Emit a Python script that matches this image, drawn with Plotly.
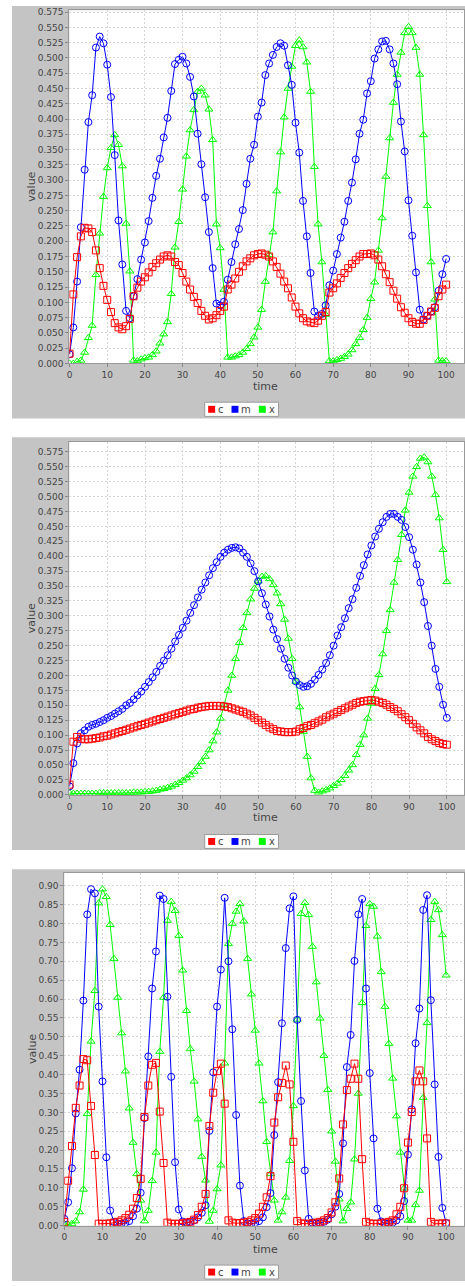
import plotly.graph_objects as go

W, H = 465, 1286
TIME = list(range(0, 101))

# ---------------- Panel 1 ----------------
P1_C = [0.016, 0.113, 0.174, 0.208, 0.222, 0.221, 0.215, 0.185, 0.156, 0.127,
        0.104, 0.084, 0.066, 0.059, 0.056, 0.061, 0.073, 0.110, 0.124, 0.134,
        0.141, 0.149, 0.158, 0.164, 0.170, 0.175, 0.177, 0.175, 0.166, 0.161,
        0.148, 0.134, 0.121, 0.109, 0.099, 0.086, 0.078, 0.072, 0.074, 0.079,
        0.086, 0.093, 0.121, 0.129, 0.139, 0.150, 0.159, 0.167, 0.172, 0.177,
        0.179, 0.180, 0.178, 0.175, 0.167, 0.158, 0.147, 0.134, 0.123, 0.108,
        0.093, 0.082, 0.074, 0.069, 0.067, 0.066, 0.070, 0.078, 0.084, 0.116,
        0.123, 0.131, 0.140, 0.148, 0.156, 0.163, 0.169, 0.175, 0.179, 0.179,
        0.180, 0.177, 0.170, 0.159, 0.146, 0.133, 0.119, 0.106, 0.092, 0.083,
        0.074, 0.068, 0.065, 0.065, 0.071, 0.078, 0.085, 0.091, 0.110, 0.121,
        0.129]
P1_M = [0.015, 0.059, 0.134, 0.223, 0.317, 0.395, 0.439, 0.517, 0.535, 0.524,
        0.489, 0.436, 0.341, 0.234, 0.162, 0.086, 0.074, 0.110, 0.138, 0.170,
        0.198, 0.233, 0.271, 0.307, 0.335, 0.370, 0.402, 0.446, 0.490, 0.497,
        0.502, 0.491, 0.469, 0.437, 0.376, 0.326, 0.272, 0.215, 0.156, 0.098,
        0.095, 0.101, 0.137, 0.166, 0.195, 0.220, 0.251, 0.294, 0.335, 0.358,
        0.404, 0.427, 0.472, 0.491, 0.505, 0.518, 0.524, 0.520, 0.488, 0.456,
        0.394, 0.345, 0.266, 0.208, 0.148, 0.085, 0.078, 0.081, 0.095, 0.128,
        0.152, 0.179, 0.206, 0.232, 0.266, 0.296, 0.334, 0.376, 0.399, 0.442,
        0.462, 0.499, 0.514, 0.527, 0.528, 0.514, 0.491, 0.457, 0.396, 0.347,
        0.267, 0.209, 0.149, 0.088, 0.072, 0.078, 0.085, 0.092, 0.119, 0.146,
        0.171]
P1_X = [0.000, 0.000, 0.003, 0.005, 0.018, 0.042, 0.062, 0.145, 0.213, 0.273,
        0.320, 0.353, 0.374, 0.358, 0.323, 0.229, 0.151, 0.005, 0.004, 0.007,
        0.009, 0.010, 0.014, 0.020, 0.033, 0.048, 0.068, 0.114, 0.190, 0.232,
        0.285, 0.339, 0.382, 0.415, 0.445, 0.450, 0.439, 0.416, 0.366, 0.228,
        0.189, 0.121, 0.010, 0.010, 0.012, 0.014, 0.018, 0.024, 0.032, 0.043,
        0.059, 0.088, 0.134, 0.178, 0.215, 0.282, 0.346, 0.403, 0.450, 0.486,
        0.520, 0.529, 0.518, 0.493, 0.445, 0.322, 0.228, 0.166, 0.080, 0.004,
        0.004, 0.006, 0.008, 0.011, 0.015, 0.022, 0.032, 0.042, 0.055, 0.075,
        0.106, 0.133, 0.185, 0.238, 0.306, 0.369, 0.427, 0.473, 0.509, 0.541,
        0.551, 0.541, 0.517, 0.473, 0.374, 0.258, 0.166, 0.105, 0.005, 0.004,
        0.004]

# ---------------- Panel 2 ----------------
P2_C = [0.017, 0.089, 0.097, 0.094, 0.093, 0.093, 0.094, 0.095, 0.096, 0.098,
        0.099, 0.101, 0.103, 0.105, 0.107, 0.109, 0.111, 0.113, 0.115, 0.117,
        0.119, 0.121, 0.123, 0.125, 0.127, 0.129, 0.131, 0.133, 0.135, 0.137,
        0.139, 0.141, 0.143, 0.144, 0.146, 0.147, 0.148, 0.149, 0.149, 0.149,
        0.149, 0.148, 0.147, 0.145, 0.143, 0.141, 0.139, 0.136, 0.133, 0.129,
        0.125, 0.121, 0.117, 0.113, 0.110, 0.107, 0.106, 0.105, 0.105, 0.105,
        0.106, 0.110, 0.112, 0.115, 0.117, 0.120, 0.123, 0.126, 0.130, 0.133,
        0.136, 0.139, 0.142, 0.145, 0.148, 0.151, 0.154, 0.156, 0.157, 0.158,
        0.159, 0.158, 0.156, 0.154, 0.151, 0.147, 0.144, 0.140, 0.135, 0.130,
        0.125, 0.119, 0.113, 0.108, 0.103, 0.097, 0.093, 0.090, 0.087, 0.085,
        0.084]
P2_M = [0.014, 0.053, 0.086, 0.103, 0.108, 0.114, 0.117, 0.119, 0.122, 0.125,
        0.129, 0.132, 0.136, 0.140, 0.144, 0.150, 0.154, 0.160, 0.167, 0.173,
        0.181, 0.189, 0.197, 0.206, 0.216, 0.225, 0.234, 0.245, 0.257, 0.268,
        0.280, 0.292, 0.305, 0.318, 0.331, 0.344, 0.356, 0.368, 0.380, 0.390,
        0.399, 0.406, 0.411, 0.414, 0.415, 0.413, 0.406, 0.399, 0.388, 0.375,
        0.358, 0.338, 0.319, 0.299, 0.277, 0.261, 0.245, 0.228, 0.213, 0.200,
        0.190, 0.184, 0.181, 0.182, 0.186, 0.193, 0.201, 0.210, 0.221, 0.234,
        0.250, 0.267, 0.281, 0.296, 0.313, 0.328, 0.347, 0.367, 0.385, 0.403,
        0.418, 0.433, 0.446, 0.457, 0.466, 0.471, 0.471, 0.466, 0.461, 0.449,
        0.432, 0.411, 0.386, 0.356, 0.323, 0.283, 0.250, 0.211, 0.181, 0.151,
        0.129]
P2_X = [0.003, 0.002, 0.002, 0.002, 0.002, 0.002, 0.002, 0.002, 0.003, 0.003,
        0.003, 0.003, 0.003, 0.003, 0.003, 0.003, 0.003, 0.004, 0.004, 0.004,
        0.005, 0.005, 0.006, 0.007, 0.009, 0.010, 0.012, 0.014, 0.017, 0.020,
        0.024, 0.028, 0.033, 0.039, 0.047, 0.055, 0.064, 0.075, 0.090, 0.105,
        0.128, 0.150, 0.175, 0.200, 0.228, 0.255, 0.280, 0.305, 0.328, 0.346,
        0.358, 0.366, 0.367, 0.362, 0.352, 0.338, 0.320, 0.294, 0.262, 0.228,
        0.190, 0.147, 0.106, 0.064, 0.028, 0.007, 0.004, 0.006, 0.008, 0.011,
        0.015, 0.019, 0.025, 0.032, 0.041, 0.050, 0.067, 0.084, 0.100, 0.128,
        0.153, 0.178, 0.201, 0.236, 0.275, 0.310, 0.356, 0.394, 0.436, 0.477,
        0.507, 0.534, 0.550, 0.564, 0.566, 0.558, 0.534, 0.503, 0.464, 0.411,
        0.357]

# ---------------- Panel 3 ----------------
P3_C = [0.010, 0.119, 0.211, 0.312, 0.371, 0.441, 0.438, 0.317, 0.187, 0.005,
        0.005, 0.005, 0.006, 0.008, 0.010, 0.014, 0.020, 0.029, 0.045, 0.073,
        0.124, 0.288, 0.371, 0.426, 0.431, 0.302, 0.166, 0.008, 0.005, 0.005,
        0.005, 0.006, 0.008, 0.010, 0.016, 0.028, 0.050, 0.084, 0.264, 0.352,
        0.409, 0.429, 0.323, 0.014, 0.008, 0.006, 0.007, 0.008, 0.010, 0.014,
        0.020, 0.032, 0.050, 0.075, 0.131, 0.273, 0.340, 0.378, 0.424, 0.374,
        0.222, 0.012, 0.006, 0.005, 0.005, 0.006, 0.008, 0.010, 0.014, 0.020,
        0.035, 0.062, 0.125, 0.268, 0.359, 0.389, 0.429, 0.389, 0.176, 0.010,
        0.006, 0.005, 0.005, 0.006, 0.008, 0.010, 0.014, 0.030, 0.050, 0.099,
        0.220, 0.301, 0.382, 0.411, 0.382, 0.231, 0.010, 0.005, 0.005, 0.006,
        0.006]
P3_M = [0.018, 0.062, 0.152, 0.297, 0.413, 0.596, 0.824, 0.891, 0.880, 0.580,
        0.382, 0.181, 0.040, 0.010, 0.005, 0.005, 0.007, 0.012, 0.025, 0.045,
        0.087, 0.285, 0.448, 0.628, 0.726, 0.874, 0.865, 0.606, 0.394, 0.168,
        0.043, 0.011, 0.008, 0.010, 0.014, 0.022, 0.034, 0.054, 0.251, 0.406,
        0.580, 0.678, 0.868, 0.700, 0.520, 0.293, 0.106, 0.012, 0.006, 0.005,
        0.007, 0.012, 0.022, 0.049, 0.086, 0.240, 0.380, 0.536, 0.735, 0.840,
        0.872, 0.545, 0.330, 0.146, 0.018, 0.008, 0.006, 0.007, 0.010, 0.016,
        0.030, 0.050, 0.084, 0.218, 0.420, 0.505, 0.701, 0.824, 0.865, 0.628,
        0.404, 0.231, 0.045, 0.011, 0.006, 0.006, 0.008, 0.014, 0.025, 0.065,
        0.188, 0.308, 0.483, 0.575, 0.836, 0.875, 0.597, 0.374, 0.182, 0.047,
        0.007]
P3_X = [0.005, 0.003, 0.005, 0.012, 0.036, 0.096, 0.296, 0.488, 0.622, 0.854,
        0.891, 0.871, 0.797, 0.707, 0.604, 0.510, 0.409, 0.311, 0.220, 0.137,
        0.067, 0.012, 0.040, 0.119, 0.194, 0.461, 0.604, 0.808, 0.858, 0.834,
        0.768, 0.676, 0.569, 0.468, 0.382, 0.282, 0.183, 0.120, 0.011, 0.040,
        0.097, 0.160, 0.430, 0.746, 0.800, 0.832, 0.852, 0.806, 0.707, 0.613,
        0.517, 0.430, 0.330, 0.222, 0.137, 0.067, 0.014, 0.036, 0.075, 0.172,
        0.317, 0.546, 0.826, 0.855, 0.823, 0.739, 0.645, 0.549, 0.450, 0.360,
        0.250, 0.170, 0.070, 0.012, 0.045, 0.062, 0.176, 0.350, 0.590, 0.794,
        0.852, 0.845, 0.766, 0.672, 0.580, 0.482, 0.390, 0.290, 0.194, 0.099,
        0.014, 0.014, 0.055, 0.093, 0.339, 0.537, 0.810, 0.858, 0.836, 0.770,
        0.663]

SERIES_COLORS = {"c": "#ff0000", "m": "#0000ff", "x": "#00ff00"}
SERIES_SYMBOLS = {"c": "square-open", "m": "circle-open", "x": "triangle-up-open"}
SERIES_SIZES = {"c": 7, "m": 7, "x": 7}

# panel geometry in pixels
PANELS = [
    dict(data={"c": P1_C, "m": P1_M, "x": P1_X}, bg=(9, 3, 465, 418),
         plot=(66.7, 7.3, 464, 362.7), x0px=67.0, xscale=3.79, yscale=614.8,
         dtick=0.025, fmt=".3f", legend=(401.7, 416), time_y=385.7),
    dict(data={"c": P2_C, "m": P2_M, "x": P2_X}, bg=(9, 437, 465, 852.3),
         plot=(66.7, 441.7, 464, 796.7), x0px=67.0, xscale=3.797, yscale=600.0,
         dtick=0.025, fmt=".3f", legend=(836.7, 850.7), time_y=820),
    dict(data={"c": P3_C, "m": P3_M, "x": P3_X}, bg=(9, 871.7, 465, 1286),
         plot=(61.7, 875, 464, 1230.3), x0px=61.7, xscale=3.843, yscale=380.0,
         dtick=0.05, fmt=".2f", legend=(1270, 1284), time_y=1254),
]


def fx(p):
    return p / W


def fy(p):
    return 1 - p / H


fig = go.Figure()
shapes = []
annotations = []
FONT = "DejaVu Sans"
TXT = "#444444"


def label(text, xp, yp, size, angle=0):
    return dict(text=text, xref="paper", yref="paper", x=fx(xp), y=fy(yp),
                xanchor="center", yanchor="middle", showarrow=False,
                textangle=angle, font=dict(family=FONT, size=size, color=TXT))


for i, pn in enumerate(PANELS):
    k = "" if i == 0 else str(i + 1)
    xref, yref = "x" + k, "y" + k
    left, top, right, bottom = pn["plot"]
    bx0, by0, bx1, by1 = pn["bg"]
    shapes.append(dict(type="rect", xref="paper", yref="paper", layer="below",
                       x0=fx(bx0), x1=fx(bx1), y0=fy(by1), y1=fy(by0),
                       fillcolor="#c4c4c4", line=dict(width=0)))
    shapes.append(dict(type="rect", xref="paper", yref="paper", layer="below",
                       x0=fx(left), x1=fx(right), y0=fy(bottom), y1=fy(top),
                       fillcolor="#ffffff", line=dict(width=0)))
    xmin = (left - pn["x0px"]) / pn["xscale"]
    xmax = (right - pn["x0px"]) / pn["xscale"]
    ymax = (bottom - top) / pn["yscale"]

    for name in ["x", "m", "c"]:
        fig.add_trace(go.Scatter(
            x=TIME, y=pn["data"][name], mode="lines+markers", name=name,
            xaxis=xref, yaxis=yref, showlegend=False,
            line=dict(color=SERIES_COLORS[name], width=1),
            marker=dict(symbol=SERIES_SYMBOLS[name], size=SERIES_SIZES[name],
                        color=SERIES_COLORS[name],
                        line=dict(width=1, color=SERIES_COLORS[name])),
        ))

    common = dict(showline=True, linecolor="#999999", linewidth=1, mirror=True,
                  showgrid=True, gridcolor="#d6d6d6", griddash="2px,2px", gridwidth=1,
                  zeroline=False, ticks="outside", ticklen=3, tickcolor="#888888",
                  tickfont=dict(family=FONT, size=9, color=TXT), fixedrange=True)
    fig.update_layout(**{
        "xaxis" + k: dict(domain=[fx(left), fx(right)], anchor=yref, range=[xmin, xmax],
                          tickmode="linear", tick0=0, dtick=10, **common),
        "yaxis" + k: dict(domain=[fy(bottom), fy(top)], anchor=xref, range=[0, ymax],
                          tickmode="linear", tick0=0, dtick=pn["dtick"],
                          tickformat=pn["fmt"], **common),
    })

    annotations.append(label("value", 29, (top + bottom) / 2, 11, -90))
    annotations.append(label("time", 264, pn["time_y"], 11))

    ly0, ly1 = pn["legend"]
    shapes.append(dict(type="rect", xref="paper", yref="paper",
                       x0=fx(203), x1=fx(277.3), y0=fy(ly1), y1=fy(ly0),
                       fillcolor="#ffffff", line=dict(color="#9a9a9a", width=1)))
    ymid = (ly0 + ly1) / 2
    for name, sx, tx in [("c", 206.5, 219.5), ("m", 230, 245), ("x", 257.5, 270.5)]:
        shapes.append(dict(type="rect", xref="paper", yref="paper",
                           x0=fx(sx), x1=fx(sx + 7), y0=fy(ymid + 3.5), y1=fy(ymid - 3.5),
                           fillcolor=SERIES_COLORS[name], line=dict(width=0)))
        annotations.append(label(name, tx, ymid, 10))

fig.update_layout(width=W, height=H, margin=dict(l=0, r=0, t=0, b=0),
                  paper_bgcolor="#ffffff", plot_bgcolor="#ffffff",
                  shapes=shapes, annotations=annotations, showlegend=False)

fig.write_html("out.html", config={"displayModeBar": False})
